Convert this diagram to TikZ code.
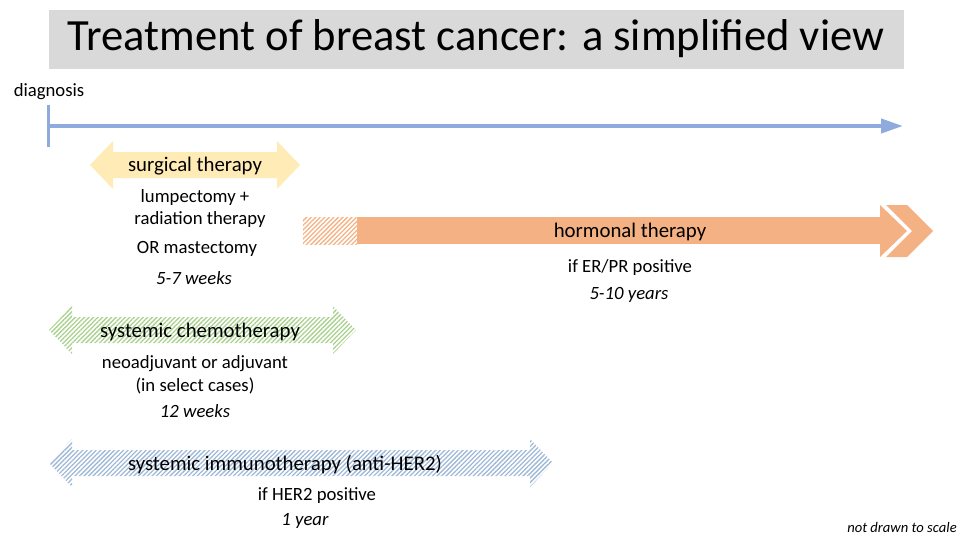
\documentclass[tikz,border=0pt]{standalone}
\usepackage{fontspec}
\setmainfont{Carlito}
\usetikzlibrary{arrows.meta,patterns.meta}
\definecolor{tlblue}{HTML}{8FAADC}
\definecolor{titlegray}{HTML}{D9D9D9}
\definecolor{surgyellow}{HTML}{FFEBB5}
\definecolor{hormorange}{HTML}{F4B183}
\definecolor{chemogreen}{HTML}{A9D18E}
\definecolor{immublue}{HTML}{9FB8D6}
\newcommand{\dblarr}[4]{%
  \path[#1] (#2,#4) -- ({#2+23},{#4-24}) -- ({#2+23},{#4-13}) -- ({#3-23},{#4-13})
  -- ({#3-23},{#4-24}) -- (#3,#4) -- ({#3-23},{#4+24}) -- ({#3-23},{#4+13})
  -- ({#2+23},{#4+13}) -- ({#2+23},{#4+24}) -- cycle;}
\tikzset{
  fs/.style={font=\fontsize{#1}{#1}\selectfont},
  lbl/.style={inner sep=0pt, anchor=center, yshift=-1.5pt, fs=20.8},
  sub/.style={inner sep=0pt, anchor=center, yshift=-1.5pt, fs=18.7},
  subit/.style={inner sep=0pt, anchor=center, yshift=-1.5pt, font=\fontsize{18.7}{18.7}\selectfont\itshape},
  hatch/.style={pattern={Lines[angle=45,distance=3.2pt,line width=1.3pt]}, pattern color=#1},
}
\begin{document}
\begin{tikzpicture}[x=1pt,y=-1pt]
\useasboundingbox (0,0) rectangle (960,542);
% title
\fill[titlegray] (49,10) rectangle (904,69);
\node[inner sep=0pt, fs=44.6] (title) at (476,39) {Treatment of breast cancer: a simplified view};
% timeline
\node[sub] (diag) at (49,90) {diagnosis};
\coordinate (tk0) at (48,105);
\coordinate (tk1) at (48,147);
\coordinate (t0) at (48,126);
\coordinate (t1) at (903,126);
\draw[tlblue, line width=3pt] (tk0) -- (tk1);
\draw[tlblue, line width=4pt, -{Triangle[length=22pt,width=14pt]}] (t0) -- (t1);
% surgical
\dblarr{fill=surgyellow}{90}{300}{165}
\node[lbl] (surg) at (195,165) {surgical therapy};
\node[sub] (lump) at (195,196) {lumpectomy +};
\node[sub] (rad) at (200,218) {radiation therapy};
\node[sub] (mast) at (197,247) {OR mastectomy};
\node[subit] (w1) at (194,277) {5-7 weeks};
% hormonal
\fill[hatch=hormorange] (303,217) rectangle (357,244);
\fill[hormorange] (357,217) rectangle (881,244);
\fill[hormorange] (880,205) -- (907,231) -- (880,257) -- cycle;
\fill[hormorange] (886,205) -- (907,205) -- (933,231) -- (907,257) -- (886,257) -- (912,231) -- cycle;
\node[lbl] (horm) at (630,230) {hormonal therapy};
\node[sub] (er) at (630,266) {if ER/PR positive};
\node[subit] (w2) at (629,293) {5-10 years};
% chemo
\dblarr{hatch=chemogreen}{49}{356}{330}
\node[lbl] (chemo) at (200,330) {systemic chemotherapy};
\node[sub] (neo) at (195,362) {neoadjuvant or adjuvant};
\node[sub] (sel) at (195,384) {(in select cases)};
\node[subit] (w3) at (195,410) {12 weeks};
% immuno
\dblarr{hatch=immublue}{49}{553}{463}
\node[lbl] (immu) at (285,463) {systemic immunotherapy (anti-HER2)};
\node[sub] (her) at (317,494) {if HER2 positive};
\node[subit] (yr) at (305,519) {1 year};
% note
\node[inner sep=0pt, font=\fontsize{14.6}{14.6}\selectfont\itshape] (note) at (902,527) {not drawn to scale};
\end{tikzpicture}
\end{document}
